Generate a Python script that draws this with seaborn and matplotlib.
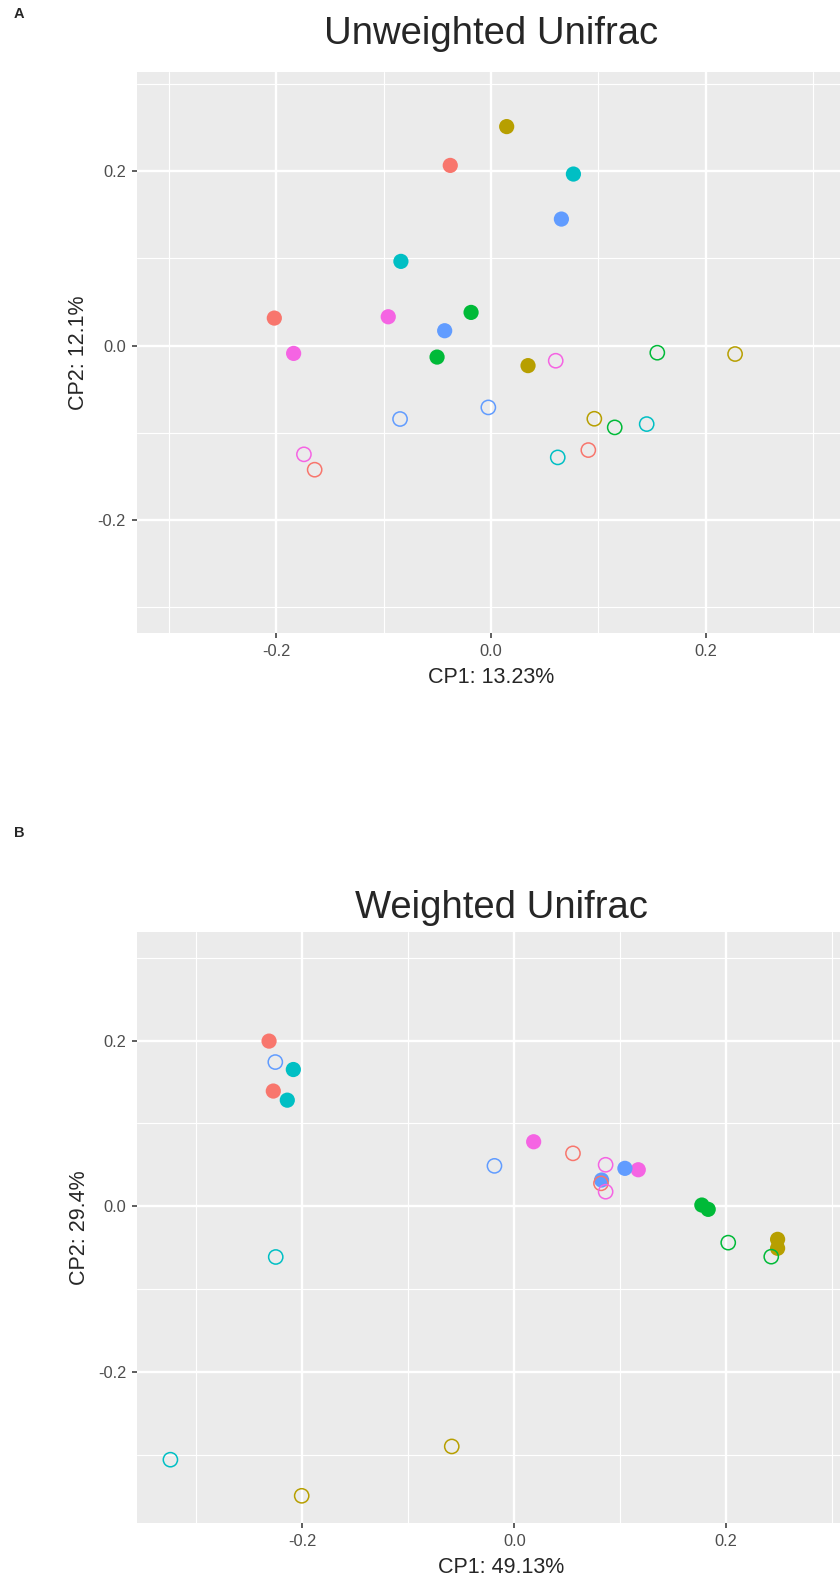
import numpy as np
import pandas as pd
import seaborn as sns
from matplotlib import pyplot as plt
from matplotlib.ticker import MultipleLocator

# ggplot-style hue palette, six sample groups
group_names = ["G1", "G2", "G3", "G4", "G5", "G6"]
group_colors = ["#F8766D", "#B79F00", "#00BA38", "#00BFC4", "#619CFF", "#F564E3"]

# Unweighted Unifrac (panel A)
a_x = [-0.038, -0.202, -0.084, 0.0768, -0.0958, -0.184, -0.0186, -0.0503,
       -0.0432, 0.0656, 0.0146, 0.0345,
       0.0603, -0.1744, 0.155, 0.1153, 0.2275, 0.0963, -0.0848, -0.0025,
       -0.1644, 0.0907, 0.1451, 0.0622]
a_y = [0.2065, 0.0315, 0.0965, 0.1966, 0.033, -0.009, 0.038, -0.0132,
       0.017, 0.145, 0.251, -0.023,
       -0.0174, -0.1247, -0.0082, -0.0938, -0.0097, -0.0839, -0.0842, -0.0709,
       -0.1423, -0.1198, -0.09, -0.1282]
a_group = ["G1", "G1", "G4", "G4", "G6", "G6", "G3", "G3", "G5", "G5", "G2", "G2",
           "G6", "G6", "G3", "G3", "G2", "G2", "G5", "G5", "G1", "G1", "G4", "G4"]
a_filled = [True] * 12 + [False] * 12

# Weighted Unifrac (panel B)
b_x = [-0.2314, -0.2274, -0.2085, -0.2142, 0.0183, 0.117, 0.1044, 0.0824,
       0.177, 0.183, 0.2485, 0.2485,
       -0.2255, -0.0187, -0.2251, -0.3245, 0.0554, 0.0818, 0.0862, 0.0862,
       0.2019, 0.2425, -0.2006, -0.059]
b_y = [0.1993, 0.139, 0.165, 0.128, 0.0778, 0.044, 0.0457, 0.0316,
       0.0014, -0.0038, -0.040, -0.0508,
       0.174, 0.0487, -0.0613, -0.306, 0.0638, 0.0276, 0.050, 0.0175,
       -0.044, -0.0609, -0.3496, -0.290]
b_group = ["G1", "G1", "G4", "G4", "G6", "G6", "G5", "G5", "G3", "G3", "G2", "G2",
           "G5", "G5", "G4", "G4", "G1", "G1", "G6", "G6", "G3", "G3", "G2", "G2"]
b_filled = [True] * 12 + [False] * 12

sns.set_style("darkgrid", {
    "axes.facecolor": "#EBEBEB",
    "grid.color": "white",
    "xtick.bottom": True,
    "ytick.left": True,
})
plt.rcParams["font.family"] = ["Liberation Sans", "DejaVu Sans"]

palette = dict(zip(group_names, group_colors))


def draw_panel(ax, xs, ys, groups, filled, title, xlabel, ylabel, xlim, ylim,
               title_pad):
    df = pd.DataFrame({"x": xs, "y": ys, "group": groups, "filled": filled})
    sns.scatterplot(data=df[df["filled"]], x="x", y="y", hue="group",
                    palette=palette, s=120, linewidth=0, ax=ax, legend=False,
                    zorder=3)
    sns.scatterplot(data=df[~df["filled"]], x="x", y="y", hue="group",
                    palette=palette, s=105, ax=ax, legend=False, zorder=3)
    # make the second set hollow
    pts = ax.collections[-1]
    fc = pts.get_facecolors()
    pts.set_edgecolors(fc)
    pts.set_facecolors("none")
    pts.set_linewidths(1.1)

    ax.set_xlim(*xlim)
    ax.set_ylim(*ylim)
    ax.xaxis.set_major_locator(MultipleLocator(0.2))
    ax.yaxis.set_major_locator(MultipleLocator(0.2))
    ax.xaxis.set_minor_locator(MultipleLocator(0.1))
    ax.yaxis.set_minor_locator(MultipleLocator(0.1))
    ax.xaxis.set_major_formatter(lambda v, p: "{:.1f}".format(v).replace("-0.0", "0.0"))
    ax.yaxis.set_major_formatter(lambda v, p: "{:.1f}".format(v).replace("-0.0", "0.0"))
    ax.grid(which="major", color="white", linewidth=1.7)
    ax.grid(which="minor", color="white", linewidth=0.8)
    ax.tick_params(which="major", length=3.5, width=1.1, color="#333333",
                   labelsize=11.8, labelcolor="#4D4D4D", pad=4.5)
    ax.tick_params(which="minor", length=0)
    for sp in ax.spines.values():
        sp.set_visible(False)
    ax.set_title(title, fontsize=27.5, pad=title_pad)
    ax.set_xlabel(xlabel, fontsize=15.5, labelpad=5.5)
    ax.set_ylabel(ylabel, fontsize=15.5, labelpad=6)


fig = plt.figure(figsize=(8.4, 15.77), dpi=100)
ax_a = fig.add_axes([0.1631, 0.5986, 0.8429, 0.3557])
ax_b = fig.add_axes([0.1635, 0.0342, 0.8663, 0.3748])

draw_panel(ax_a, a_x, a_y, a_group, a_filled, "Unweighted Unifrac",
           "CP1: 13.23%", "CP2: 12.1%", (-0.33, 0.33), (-0.3295, 0.3135), 20)
draw_panel(ax_b, b_x, b_y, b_group, b_filled, "Weighted Unifrac",
           "CP1: 49.13%", "CP2: 29.4%", (-0.3557, 0.331), (-0.3825, 0.331), 10)

fig.text(14 / 840, 1 - 14 / 1577, "A", fontsize=10.5, fontweight="bold",
         ha="left", va="center")
fig.text(14 / 840, 1 - 833 / 1577, "B", fontsize=10.5, fontweight="bold",
         ha="left", va="center")

fig.savefig("out.png", dpi=100)
